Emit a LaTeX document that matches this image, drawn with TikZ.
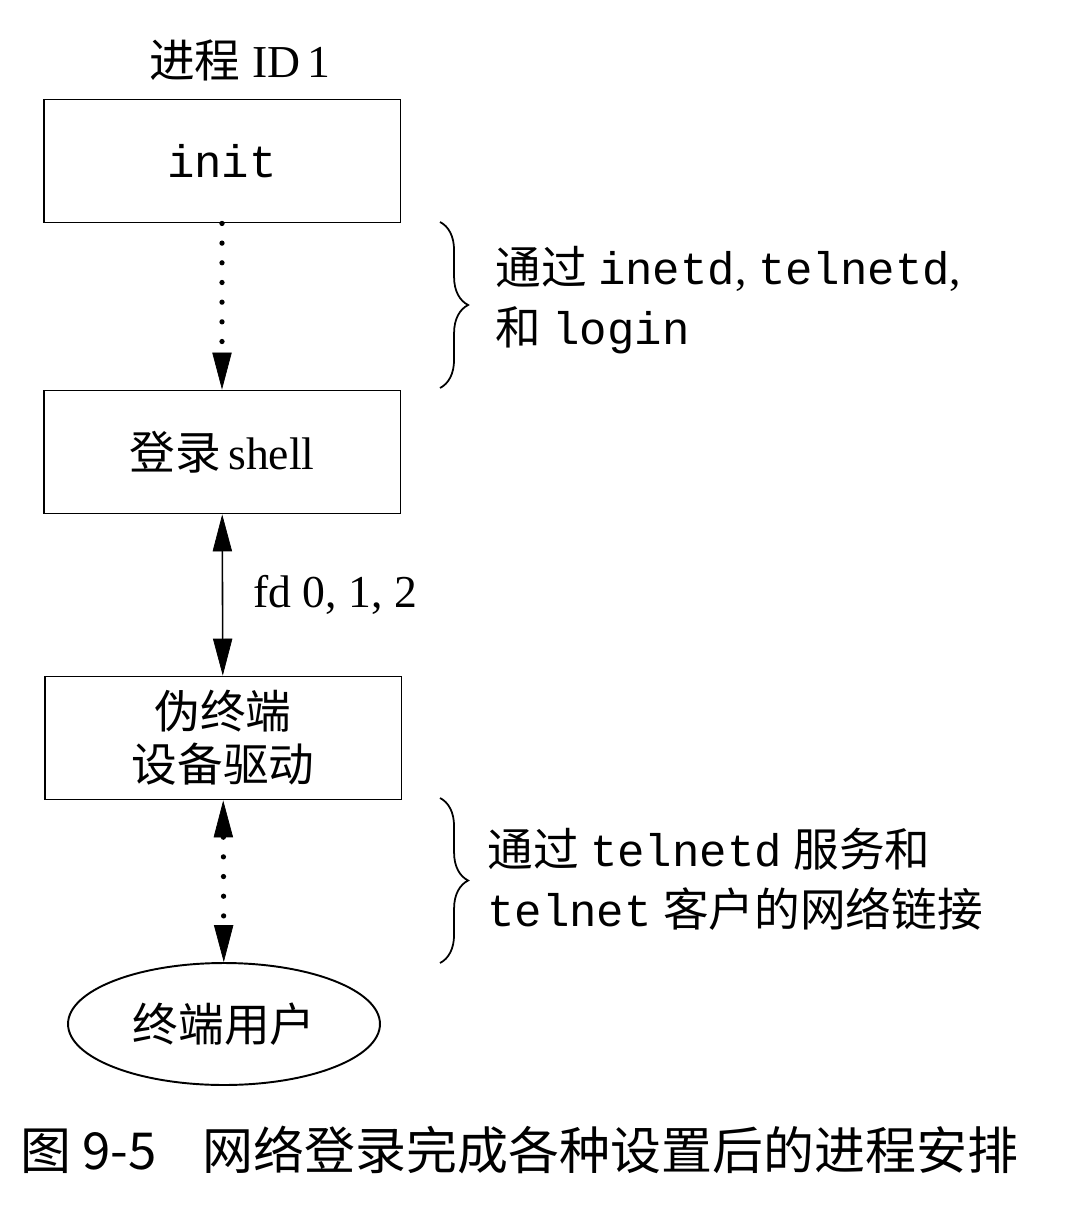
\documentclass[tikz,border=0pt]{standalone}
\usepackage{fontspec}
\setmainfont{Liberation Serif}
\setmonofont{Liberation Mono}
\newfontfamily\cjk{Noto Sans CJK SC}
\usetikzlibrary{shapes.geometric,arrows.meta,positioning,decorations.pathreplacing}

\begin{document}
\begin{tikzpicture}[
    x=0.02cm, y=-0.02cm,
    font=\fontsize{26}{34}\selectfont,
    >={Triangle[length=21pt,width=11pt,line width=0.4pt]},
    box/.style={rectangle, draw, line width=1.1pt, minimum width=7.14cm, minimum height=2.46cm, align=center},
    user/.style={ellipse, draw, line width=1.1pt, minimum width=6.24cm, minimum height=2.44cm, inner sep=0pt},
    note/.style={anchor=west, align=left, inner sep=0pt},
    arrow/.style={<->, line width=0.9pt},
    dotarrow/.style={line width=3pt, line cap=round, dash pattern=on 0pt off 11.2pt},
    brace/.style={decorate, decoration={brace, amplitude=16pt}, line width=1pt}
]
\useasboundingbox (0,0) rectangle (1066,1222);

% Process boxes
\node[box] (init) at (222,161) {\ttfamily init};
\node[box] (shell) at (222,452) {{\cjk 登录}\,shell};
\node[box, font=\fontsize{26}{30}\selectfont] (pty) at (223,738) {\cjk 伪终端\\\cjk 设备驱动};
\node[user] (user) at (224,1024) {\cjk 终端用户};

\node[above=0.35cm of init, xshift=0.36cm, inner sep=0pt] (pid) {{\cjk 进程}\ ID\,1};

% Arrows
\draw[dotarrow, ->] (init) -- (shell);
\draw[arrow] (shell) -- node[right=0.6cm, inner sep=0pt] (fd) {fd 0, 1, 2} (pty);
\draw[dotarrow, <->] (pty) -- (user);

% Braces
\coordinate (b1top) at (440,222);
\coordinate (b1bot) at (440,388);
\coordinate (b2top) at (440,798);
\coordinate (b2bot) at (440,963);
\draw[brace] (b1top) -- (b1bot);
\draw[brace] (b2top) -- (b2bot);

\node[note] (via1) at (495,300) {{\cjk 通过} {\ttfamily inetd}{\rmfamily,} {\ttfamily telnetd}{\rmfamily,}\\{\cjk 和} {\ttfamily login}};
\node[note] (via2) at (487,879) {{\cjk 通过} {\ttfamily telnetd} {\cjk 服务和}\\{\ttfamily telnet} {\cjk 客户的网络链接}};

% Caption
\node[anchor=west, inner sep=0pt, font=\cjk\fontsize{29}{34}\selectfont] (cap) at (20,1150) {图 9-5\hspace{0.9em}网络登录完成各种设置后的进程安排};

\end{tikzpicture}
\end{document}
